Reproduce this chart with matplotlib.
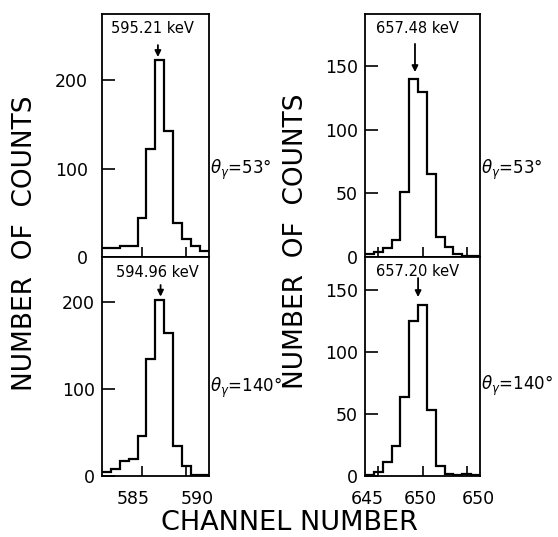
import numpy as np
import matplotlib.pyplot as plt

plt.rcParams['font.family'] = 'DejaVu Sans'

# channel numbers, one count bin per channel
chan_595 = np.arange(581, 593)
chan_657 = np.arange(644, 657)

# counts per channel for each line and detector angle
counts_595_53 = [10, 10, 12, 13, 44, 122, 223, 143, 38, 20, 13, 7]
counts_595_140 = [5, 8, 17, 20, 46, 135, 202, 164, 34, 12, 1, 1]
counts_657_53 = [2, 4, 7, 13, 51, 140, 130, 65, 16, 8, 2, 1, 0.5]
counts_657_140 = [1, 3.5, 11.5, 24, 64, 125, 138, 53, 8, 2, 1, 2, 1]

peak_labels = ['595.21 keV', '594.96 keV', '657.48 keV', '657.20 keV']
peak_channels = [586.8, 587.1, 649.15, 649.5]
angle_labels = ['53°', '140°', '53°', '140°']

yticks_595 = [0, 100, 200]
yticks_657 = [0, 50, 100, 150]
xticks_595 = [585, 590]
xticks_657 = [645, 650, 655]
xtick_labels_595 = ['585', '590']
xtick_labels_657 = ['645', '650', '650']

W, H = 558, 537
fig = plt.figure(figsize=(W / 100, H / 100), dpi=100)


def px_axes(x0, x1, y0, y1):
    return fig.add_axes([x0 / W, 1 - y1 / H, (x1 - x0) / W, (y1 - y0) / H])


panels = [
    # box in pixels, channels, counts, ylim, yticks, xticks, xlabels, label pos
    dict(box=(102, 208.5, 14, 257), chan=chan_595, counts=counts_595_53,
         ylim=275, yticks=yticks_595, xticks=xticks_595, xlab=None,
         text_xy=(0.47, 0.942), arrow=(0.872, 0.823), theta_y=0.36, ypad=10),
    dict(box=(102, 208.5, 257, 476), chan=chan_595, counts=counts_595_140,
         ylim=252, yticks=yticks_595, xticks=xticks_595,
         xlab=([584.0, 591.2], xtick_labels_595),
         text_xy=(0.516, 0.93), arrow=(0.872, 0.819), theta_y=0.40, ypad=5),
    dict(box=(365, 480, 14, 257), chan=chan_657, counts=counts_657_53,
         ylim=191, yticks=yticks_657, xticks=xticks_657, xlab=None,
         text_xy=(0.46, 0.942), arrow=(0.877, 0.761), theta_y=0.36, ypad=5),
    dict(box=(365, 480, 257, 476), chan=chan_657, counts=counts_657_140,
         ylim=176.6, yticks=yticks_657, xticks=xticks_657,
         xlab=([643.8, 649.7, 656.3], xtick_labels_657),
         text_xy=(0.46, 0.936), arrow=(0.904, 0.817), theta_y=0.41, ypad=5),
]

for i, p in enumerate(panels):
    ax = px_axes(*p['box'])
    chan = p['chan']
    edges = np.append(chan - 0.5, chan[-1] + 0.5)
    ax.stairs(p['counts'], edges, color='black', lw=1.6, baseline=None)
    ax.set_xlim(edges[0], edges[-1])
    ax.set_ylim(0, p['ylim'])

    for s in ax.spines.values():
        s.set_linewidth(1.3)

    ax.set_yticks(p['yticks'])
    ax.tick_params(axis='y', direction='in', length=9, width=1.2,
                   labelsize=12.5, pad=p['ypad'])
    ax.set_xticks(p['xticks'])
    ax.tick_params(axis='x', which='major', direction='in', length=7,
                   width=1.2, labelbottom=False)
    if p['xlab'] is not None:
        pos, labs = p['xlab']
        ax.set_xticks(pos, minor=True)
        ax.set_xticklabels(labs, minor=True)
        ax.tick_params(axis='x', which='minor', length=0, labelsize=12.5,
                       pad=10)
    else:
        ax.tick_params(axis='x', which='minor', length=0, labelbottom=False)

    ax.text(*p['text_xy'], peak_labels[i], transform=ax.transAxes,
            ha='center', va='center', fontsize=10.5)
    ax.annotate('', xy=(peak_channels[i], p['arrow'][1]),
                xytext=(peak_channels[i], p['arrow'][0]),
                xycoords=('data', 'axes fraction'),
                textcoords=('data', 'axes fraction'),
                arrowprops=dict(arrowstyle='-|>', color='black', lw=1.3,
                                mutation_scale=9, shrinkA=0, shrinkB=0))
    ax.text(1.01, p['theta_y'], r'$\theta_{\gamma}$=' + angle_labels[i],
            transform=ax.transAxes, ha='left', va='center', fontsize=12)

fig.text(25.5 / W, 1 - 243.5 / H, 'NUMBER  OF  COUNTS', rotation=90,
         ha='center', va='center', fontsize=19)
fig.text(296 / W, 1 - 241.5 / H, 'NUMBER  OF  COUNTS', rotation=90,
         ha='center', va='center', fontsize=19)
fig.text(289 / W, 1 - 530.5 / H, 'CHANNEL NUMBER', ha='center',
         va='baseline', fontsize=19.5)

fig.savefig('out.png', dpi=100)
